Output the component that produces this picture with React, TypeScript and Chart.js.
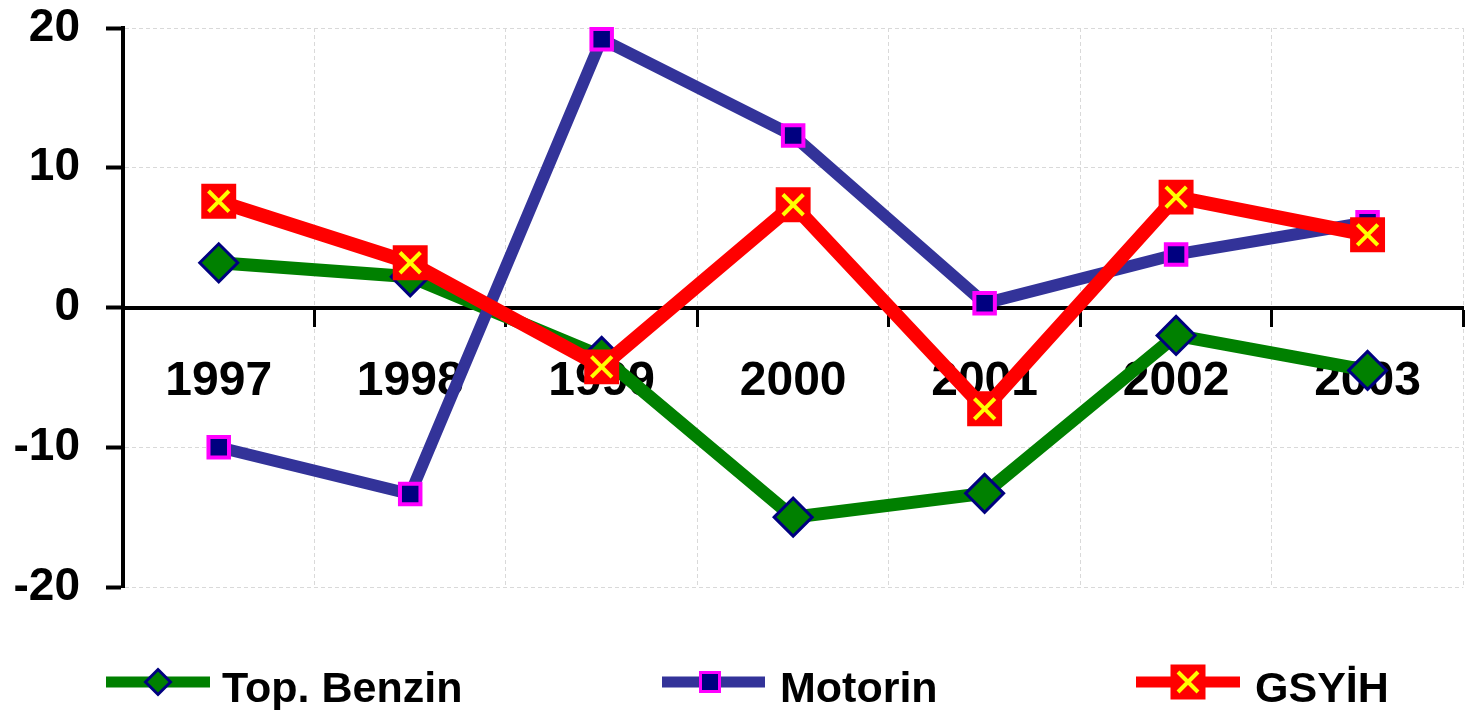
import React, { useEffect, useRef } from 'react';
import { Chart, registerables } from 'chart.js';

Chart.register(...registerables);

const categories = ['1997', '1998', '1999', '2000', '2001', '2002', '2003'];
const benzin = [3.2, 2.2, -3.5, -15.0, -13.3, -2.0, -4.5];
const motorin = [-10.0, -13.35, 19.2, 12.3, 0.3, 3.8, 6.1];
const gsyih = [7.6, 3.2, -4.25, 7.35, -7.25, 7.9, 5.2];
const seriesNames = ['Top. Benzin', 'Motorin', 'GSYİH'];
const yMin = -20;
const yMax = 20;
const yStep = 10;

const FONT = '"Liberation Sans", Arial, sans-serif';

const legendPlugin = {
  id: 'bottomLegend',
  afterDraw(chart: any) {
    const ctx: CanvasRenderingContext2D = chart.ctx;
    const y = 682;
    const items = [
      { x1: 106, x2: 210, mx: 158, tx: 222, line: '#008000', kind: 'diamond' },
      { x1: 662, x2: 765, mx: 710, tx: 780, line: '#333399', kind: 'square' },
      { x1: 1136, x2: 1240, mx: 1188, tx: 1255, line: '#ff0000', kind: 'cross' },
    ];
    ctx.save();
    items.forEach((it, i) => {
      ctx.strokeStyle = it.line;
      ctx.lineWidth = 11;
      ctx.lineCap = 'butt';
      ctx.beginPath();
      ctx.moveTo(it.x1, y);
      ctx.lineTo(it.x2, y);
      ctx.stroke();
      if (it.kind === 'diamond') {
        const r = 12.5;
        ctx.beginPath();
        ctx.moveTo(it.mx, y - r);
        ctx.lineTo(it.mx + r, y);
        ctx.lineTo(it.mx, y + r);
        ctx.lineTo(it.mx - r, y);
        ctx.closePath();
        ctx.fillStyle = '#008000';
        ctx.fill();
        ctx.strokeStyle = '#000080';
        ctx.lineWidth = 3;
        ctx.stroke();
      } else if (it.kind === 'square') {
        const s = 9.5;
        ctx.fillStyle = '#000080';
        ctx.fillRect(it.mx - s, y - s, 2 * s, 2 * s);
        ctx.strokeStyle = '#ff00ff';
        ctx.lineWidth = 3;
        ctx.strokeRect(it.mx - s, y - s, 2 * s, 2 * s);
      } else {
        const s = 17.5;
        ctx.fillStyle = '#ff0000';
        ctx.fillRect(it.mx - s, y - s, 2 * s, 2 * s);
        ctx.strokeStyle = '#ffff00';
        ctx.lineWidth = 4;
        const c = 10;
        ctx.beginPath();
        ctx.moveTo(it.mx - c, y - c);
        ctx.lineTo(it.mx + c, y + c);
        ctx.moveTo(it.mx + c, y - c);
        ctx.lineTo(it.mx - c, y + c);
        ctx.stroke();
      }
      ctx.fillStyle = '#000000';
      ctx.font = `bold 43px ${FONT}`;
      ctx.textBaseline = 'alphabetic';
      ctx.textAlign = 'left';
      ctx.fillText(seriesNames[i], it.tx, 702);
    });
    ctx.restore();
  },
};

export default function App() {
  const canvasRef = useRef<HTMLCanvasElement | null>(null);

  useEffect(() => {
    if (!canvasRef.current) return;
    const chart = new Chart(canvasRef.current, {
      type: 'line',
      data: {
        labels: categories,
        datasets: [
          {
            label: seriesNames[0],
            data: benzin,
            borderColor: '#008000',
            backgroundColor: '#008000',
            borderWidth: 13,
            tension: 0,
            pointStyle: 'rectRot',
            pointRadius: 19,
            pointBackgroundColor: '#008000',
            pointBorderColor: '#000080',
            pointBorderWidth: 3,
            order: 4,
            clip: false,
          },
          {
            label: seriesNames[1],
            data: motorin,
            borderColor: '#333399',
            backgroundColor: '#333399',
            borderWidth: 12,
            tension: 0,
            pointStyle: 'rect',
            pointRadius: 14.5,
            pointBackgroundColor: '#000080',
            pointBorderColor: '#ff00ff',
            pointBorderWidth: 4,
            order: 3,
            clip: false,
          },
          {
            label: seriesNames[2],
            data: gsyih,
            borderColor: '#ff0000',
            backgroundColor: '#ff0000',
            borderWidth: 14,
            tension: 0,
            pointStyle: 'rect',
            pointRadius: 24.7,
            pointBackgroundColor: '#ff0000',
            pointBorderColor: '#ff0000',
            pointBorderWidth: 0,
            order: 2,
            clip: false,
          },
          {
            label: seriesNames[2] + ' x',
            data: gsyih,
            showLine: false,
            borderColor: '#ffff00',
            pointStyle: 'crossRot',
            pointRadius: 14.5,
            pointBorderColor: '#ffff00',
            pointBorderWidth: 4,
            order: 1,
            clip: false,
          },
        ],
      },
      options: {
        animation: false,
        responsive: false,
        maintainAspectRatio: false,
        events: [],
        layout: { padding: { top: 28, right: 0, left: 0, bottom: 123 } },
        plugins: {
          legend: { display: false },
          tooltip: { enabled: false },
        },
        scales: {
          x: {
            type: 'category',
            position: { y: 0 } as any,
            offset: true,
            grid: {
              offset: true,
              color: '#d9d9d9',
              lineWidth: 1,
              tickColor: '#000000',
              tickWidth: 3,
              tickLength: 17,
            },
            border: { display: true, color: '#000000', width: 4, dash: [4, 3] },
            ticks: {
              color: '#000000',
              font: { family: FONT, size: 48, weight: 'bold' },
              padding: 28,
              maxRotation: 0,
              autoSkip: false,
            },
            afterFit: (s: any) => {
              s.paddingLeft = 0;
              s.paddingRight = 0;
            },
          },
          y: {
            type: 'linear',
            min: yMin,
            max: yMax,
            ticks: {
              stepSize: yStep,
              color: '#000000',
              font: { family: FONT, size: 46, weight: 'bold' },
              padding: 26,
            },
            grid: {
              color: '#d9d9d9',
              lineWidth: 1,
              tickColor: '#000000',
              tickWidth: 4,
              tickLength: 17,
            },
            border: { display: true, color: '#000000', width: 4, dash: [4, 3] },
            afterFit: (s: any) => {
              s.width = 123;
              s.paddingTop = 0;
              s.paddingBottom = 0;
            },
          },
        },
      },
      plugins: [legendPlugin],
    });
    return () => chart.destroy();
  }, []);

  return (
    <div style={{ position: 'fixed', left: 0, top: 0, width: 1465, height: 710, background: '#fff', overflow: 'hidden' }}>
      <canvas ref={canvasRef} width={1488} height={710} style={{ width: 1488, height: 710 }} />
    </div>
  );
}
